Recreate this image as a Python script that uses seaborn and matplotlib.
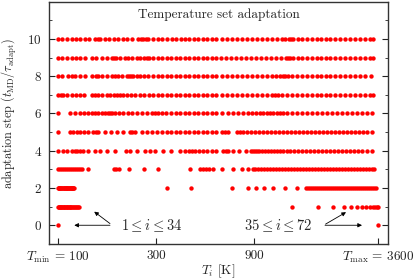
import numpy as np
import pandas as pd
import matplotlib
matplotlib.use("Agg")
import matplotlib.pyplot as plt
from matplotlib.ticker import MultipleLocator, NullLocator
import seaborn as sns

# Temperatures T_i [K] of the 72 replicas after each adaptation step
t_step0 = [100, 3600]
t_step1 = [100, 100.7, 101.5, 102.4, 103.1, 104.0, 104.9, 105.5, 106.6, 107.3, 108.4, 109.0,
           110.2, 111.1, 111.9, 113.0, 114.2, 115.0, 116.3, 117.5, 118.4, 119.8, 121.0, 122.6,
           124.1, 125.7, 127.2,
           1374, 1838, 2174, 2459, 2659, 2844, 3008, 3163, 3272, 3384, 3480, 3559, 3600]
t_step2 = [100, 100.6, 101.1, 101.7, 102.3, 103.4, 104.0, 104.6, 105.8, 106.4, 107.0, 108.2,
           108.8, 109.4, 110.6, 111.2, 111.8, 113.1, 113.7, 114.3, 115.6, 116.2, 116.9, 117.5,
           118.2, 118.9, 119.6,
           340, 442,
           705, 842, 920, 1006, 1110, 1270, 1453,
           1607, 1643, 1680, 1718, 1757, 1797, 1838, 1879, 1922, 1965, 2010, 2055, 2102, 2150,
           2198, 2248, 2299, 2351, 2404, 2459, 2515, 2571, 2630, 2689, 2750, 2813, 2876, 2941,
           3008, 3076, 3146, 3217, 3290, 3365, 3441, 3519]
t_step3 = [100, 102, 105, 107, 109, 112, 114, 117, 120, 122, 125, 128, 131, 140,
           187, 191, 198, 221, 262, 306, 438, 490, 507, 524, 542, 567,
           627, 709, 785, 839, 887,
           908, 938, 971, 1004, 1038, 1074, 1110, 1148, 1187, 1228, 1270, 1313, 1358, 1405,
           1453, 1502, 1554, 1607, 1662, 1718, 1777, 1838, 1900, 1965, 2032, 2102, 2174, 2248,
           2325, 2404, 2487, 2571, 2659, 2750, 2844, 2941, 3042, 3146, 3254, 3365, 3441]
t_step4 = [100, 106, 111, 117, 121, 124, 128, 132, 140, 151, 160, 173, 189, 214, 224, 242,
           265, 280, 296, 324, 354, 392, 414, 433, 448, 463, 485, 507, 530, 561, 586, 634,
           656, 671, 709, 759, 821, 868, 887, 908, 928, 949, 982, 1015, 1050, 1086, 1123, 1161,
           1201, 1242, 1299, 1343, 1405, 1469, 1536, 1607, 1680, 1757, 1838, 1922, 2010, 2102,
           2198, 2299, 2404, 2515, 2630, 2750, 2876, 3008, 3181, 3365]
t_step5 = [100, 114, 118, 124, 128, 134, 140, 148, 153, 156, 169, 181, 194, 207, 224, 229,
           237, 256, 271, 286, 303, 320, 339, 354, 375, 392, 414, 433, 458, 479, 507, 530,
           561, 586, 627, 649, 671, 742, 767, 793, 830, 868, 908, 949, 993, 1038, 1086, 1135,
           1187, 1242, 1299, 1358, 1421, 1486, 1554, 1625, 1699, 1777, 1858, 1943, 2032, 2126,
           2223, 2325, 2432, 2543, 2659, 2781, 2909, 3042, 3181, 3365]
t_step6 = [100, 114, 121, 128, 134, 140, 146, 151, 156, 164, 169, 175, 179, 183, 189, 198,
           207, 219, 229, 242, 256, 271, 286, 296, 306, 320, 335, 354, 375, 392, 414, 433,
           458, 479, 507, 530, 561, 586, 627, 671, 709, 750, 793, 839, 878, 918, 960, 993,
           1038, 1074, 1110, 1161, 1201, 1242, 1299, 1374, 1453, 1536, 1625, 1718, 1817, 1922,
           2032, 2150, 2273, 2404, 2543, 2689, 2844, 3008, 3181, 3365]
t_step7 = [100, 103, 106, 111, 117, 122, 128, 134, 146, 151, 156, 164, 173, 179, 187, 194,
           200, 207, 217, 226, 237, 250, 262, 277, 290, 306, 320, 339, 354, 375, 392, 414,
           433, 458, 479, 507, 530, 561, 586, 627, 663, 701, 742, 785, 830, 878, 928, 982,
           1038, 1098, 1135, 1174, 1228, 1299, 1374, 1453, 1536, 1625, 1718, 1817, 1900, 2010,
           2102, 2223, 2351, 2487, 2630, 2781, 2941, 3111, 3290, 3403]
t_step8 = [100, 105, 112, 117, 121, 128, 135, 146, 153, 156, 164, 173, 183, 189, 196, 205,
           217, 221, 226, 232, 242, 250, 262, 274, 290, 306, 320, 339, 354, 375, 392, 414,
           433, 458, 479, 507, 530, 561, 586, 627, 663, 701, 742, 785, 830, 878, 928, 982,
           1038, 1098, 1148, 1201, 1242, 1270, 1313, 1374, 1453, 1536, 1625, 1718, 1817, 1900,
           2010, 2102, 2223, 2351, 2487, 2630, 2781, 2941, 3111, 3327]
t_step9 = [100, 105, 111, 117, 122, 128, 135, 146, 153, 164, 173, 183, 187, 191, 200, 212,
           219, 229, 242, 250, 262, 271, 277, 290, 306, 320, 339, 354, 375, 392, 414, 433,
           458, 479, 507, 530, 561, 586, 620, 656, 694, 734, 776, 821, 868, 918, 971, 1026,
           1086, 1148, 1214, 1284, 1313, 1343, 1389, 1469, 1536, 1625, 1718, 1817, 1900, 2010,
           2102, 2223, 2351, 2487, 2630, 2781, 2941, 3111, 3290, 3403]
t_step10 = [100, 105, 111, 117, 122, 128, 135, 142, 151, 156, 160, 169, 177, 187, 196, 207,
            217, 229, 245, 253, 259, 268, 274, 290, 306, 320, 339, 358, 375, 396, 414, 433,
            458, 479, 507, 530, 561, 586, 627, 663, 701, 742, 785, 830, 878, 928, 982, 1038,
            1098, 1161, 1228, 1270, 1328, 1358, 1389, 1469, 1536, 1625, 1718, 1817, 1900, 2010,
            2102, 2223, 2351, 2487, 2630, 2781, 2941, 3111, 3290, 3403]

steps = [t_step0, t_step1, t_step2, t_step3, t_step4, t_step5,
         t_step6, t_step7, t_step8, t_step9, t_step10]

x_ticks = [100, 300, 900, 3600]
x_tick_labels = [r'$T_{\rm min}\,{=}\,100$', '300', '900', r'$T_{\rm max}\,{=}\,3600$']

rows = []
for k, temps in enumerate(steps):
    for t in temps:
        rows.append({'step': k, 'T': t})
df = pd.DataFrame(rows)

sns.set_style('ticks')
plt.rcParams['font.family'] = ['cmr10', 'DejaVu Serif']
plt.rcParams['mathtext.fontset'] = 'cm'
plt.rcParams['axes.formatter.use_mathtext'] = True
plt.rcParams['axes.unicode_minus'] = False

fig = plt.figure(figsize=(4.15, 2.8), dpi=100)
ax = fig.add_axes([0.118, 0.129, 0.817, 0.865])

sns.scatterplot(data=df, x='T', y='step', color='#ff0000', s=10, linewidth=0,
                legend=False, ax=ax, zorder=3)

ax.set_xscale('log')
ax.set_xlim(90.4, 4025)
ax.set_ylim(-1, 12)
ax.set_xticks(x_ticks)
ax.set_xticklabels(x_tick_labels)
ax.xaxis.set_minor_locator(NullLocator())
ax.set_yticks(range(0, 11, 2))
ax.yaxis.set_minor_locator(MultipleLocator(1))

ax.tick_params(axis='both', which='both', direction='in', labelsize=9.5, colors='#222222')
ax.tick_params(axis='y', which='both', right=True)
ax.tick_params(axis='y', which='major', length=4, pad=5)
ax.tick_params(axis='y', which='minor', length=2.5)
ax.tick_params(axis='x', which='major', length=4, pad=4)

for sp in ax.spines.values():
    sp.set_color('#333333')
    sp.set_linewidth(1.0)

ax.set_xlabel(r'$T_i$ [K]', fontsize=9.5)
ax.xaxis.set_label_coords(0.5, -0.075)
ax.set_ylabel(r'adaptation step $(t_{\rm MD}/\tau_{\rm adapt})$', fontsize=8.8)
ax.yaxis.set_label_coords(-0.092, 0.54)

ax.text(0.5, 0.945, 'Temperature set adaptation', transform=ax.transAxes,
        ha='center', va='center', fontsize=9.5)

arrow = dict(arrowstyle='-|>', lw=0.6, color='black', mutation_scale=6,
             shrinkA=0, shrinkB=0)
ax.text(285, 0.0, r'$1 \leq i \leq 34$', ha='center', va='center', fontsize=10.5)
ax.annotate('', xy=(120, 0.0), xytext=(179, 0.0), arrowprops=arrow)
ax.annotate('', xy=(150, 0.73), xytext=(179, 0.09), arrowprops=arrow)

ax.text(1174, 0.0, r'$35 \leq i \leq 72$', ha='center', va='center', fontsize=10.5)
ax.annotate('', xy=(3008, 0.0), xytext=(1988, 0.0), arrowprops=arrow)
ax.annotate('', xy=(2515, 0.70), xytext=(2000, 0.06), arrowprops=arrow)

fig.savefig('out.png', dpi=100)
